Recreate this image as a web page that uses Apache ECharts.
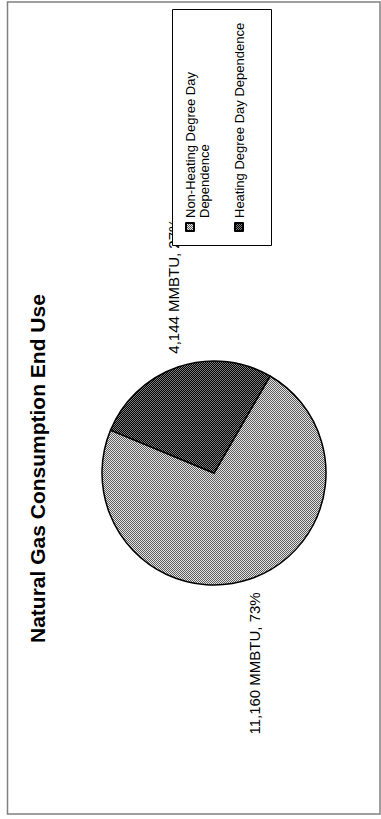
<!DOCTYPE html>
<html>
<head>
<meta charset="utf-8">
<script src="https://cdn.jsdelivr.net/npm/echarts@6/dist/echarts.min.js"></script>
<style>
html, body { margin: 0; padding: 0; background: #fff; width: 381px; height: 819px; overflow: hidden; }
#wrap { position: absolute; left: 0; top: 0; width: 819px; height: 381px; transform-origin: 0 0; transform: translate(0, 819px) rotate(-90deg); }
</style>
</head>
<body>
<div id="wrap"></div>
<script>
// ---- data ----
const titleText = 'Natural Gas Consumption End Use';
const categories = ['Non-Heating Degree Day Dependence', 'Heating Degree Day Dependence'];
const values = [11160, 4144];
const unitLabel = 'MMBTU';

// ---- pattern fills (Excel-like dithered greys) ----
function makePattern(c1, c2) {
  const cv = document.createElement('canvas');
  cv.width = 2; cv.height = 2;
  const ctx = cv.getContext('2d');
  ctx.fillStyle = c1; ctx.fillRect(0, 0, 2, 2);
  ctx.fillStyle = c2; ctx.fillRect(0, 0, 1, 1); ctx.fillRect(1, 1, 1, 1);
  return cv.toDataURL();
}
const fills = [makePattern('#e4e4e4', '#5c5c5c'), makePattern('#000000', '#7c7c7c')];

const FONT = 'Arial, "Liberation Sans", sans-serif';

const chart = echarts.init(document.getElementById('wrap'), null, { renderer: 'svg', width: 819, height: 381 });

chart.setOption({
  animation: false,
  backgroundColor: '#ffffff',
  title: {
    text: titleText,
    left: 176,
    top: 27,
    padding: 0,
    textStyle: { fontSize: 21, fontWeight: 'bold', color: '#000', fontFamily: FONT }
  },
  graphic: [
    {
      type: 'rect', z: 1, silent: true,
      shape: { x: 5, y: 7.5, width: 812, height: 372.5 },
      style: { fill: 'none', stroke: '#808080', lineWidth: 1.5 }
    },
    {
      type: 'rect', z: 3, silent: true,
      shape: { x: 573.5, y: 172.5, width: 236, height: 99 },
      style: { fill: '#ffffff', stroke: '#000000', lineWidth: 1 }
    }
  ],
  legend: {
    orient: 'vertical',
    left: 587,
    top: 169,
    padding: 0,
    itemGap: 21,
    itemWidth: 8,
    itemHeight: 8,
    icon: 'rect',
    selectedMode: false,
    data: categories,
    textStyle: { fontSize: 13, lineHeight: 14, color: '#000', fontFamily: FONT },
    formatter: function (name) {
      if (name === categories[0]) {
        const i = name.lastIndexOf(' ');
        return '\n' + name.slice(0, i) + '\n' + name.slice(i + 1);
      }
      return name;
    }
  },
  series: [{
    type: 'pie',
    center: [346, 214],
    radius: 112,
    startAngle: 330,
    clockwise: true,
    avoidLabelOverlap: false,
    silent: true,
    emphasis: { disabled: true },
    itemStyle: { borderColor: '#000', borderWidth: 1.5 },
    label: {
      show: true,
      position: 'outside',
      distanceToLabelLine: 0,
      fontSize: 15,
      color: '#000',
      fontFamily: FONT,
      formatter: function (p) {
        return p.value.toLocaleString('en-US') + ' ' + unitLabel + ', ' + Math.round(p.percent) + '%';
      }
    },
    labelLine: { show: false, length: 14, length2: 0 },
    data: categories.map(function (n, i) {
      return { name: n, value: values[i], itemStyle: { color: { image: fills[i], repeat: 'repeat' } } };
    })
  }]
});
</script>
</body>
</html>
